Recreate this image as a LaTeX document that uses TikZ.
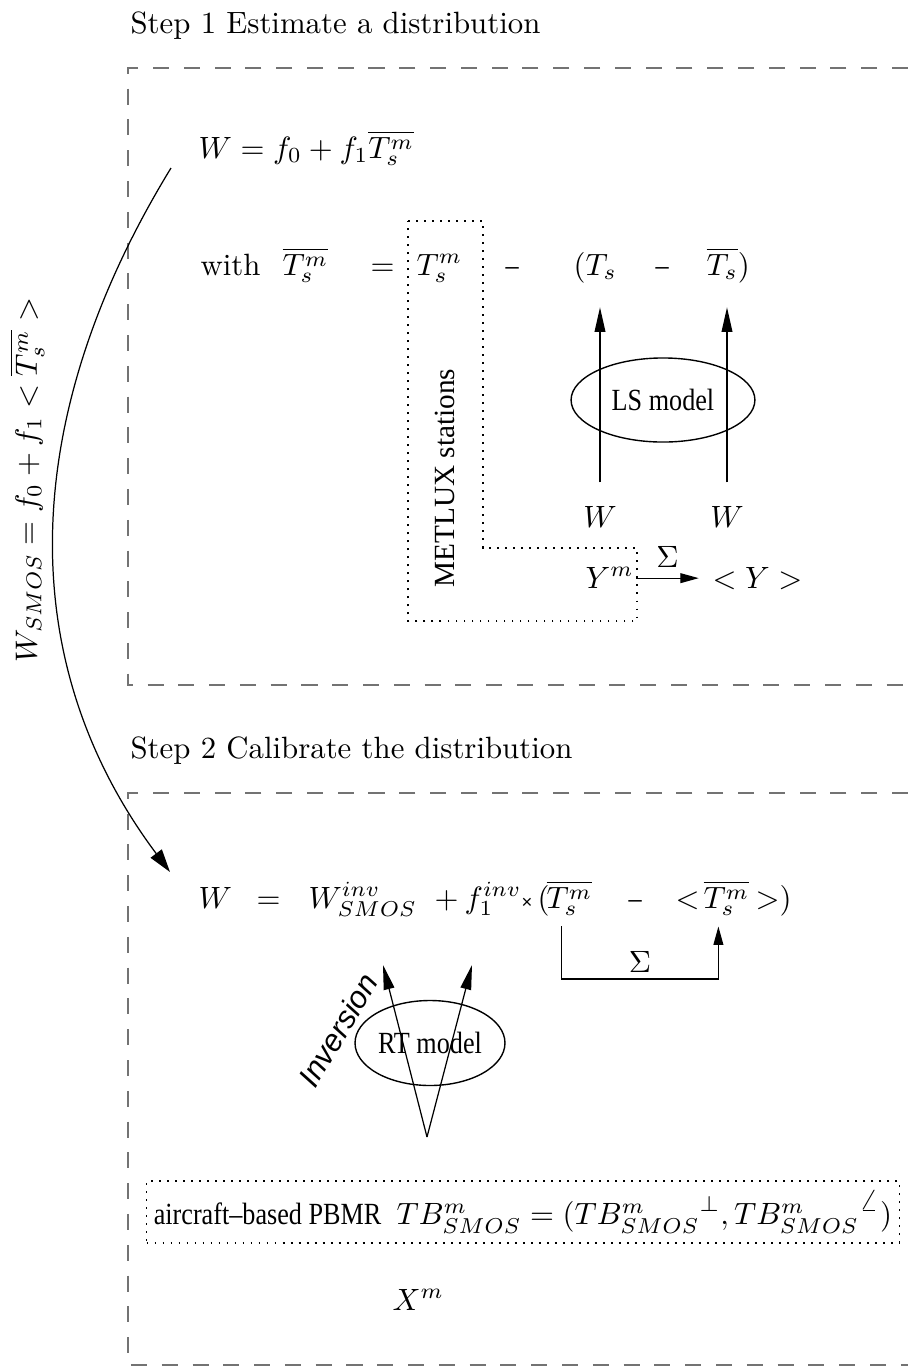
\documentclass[tikz,border=0pt]{standalone}
\usepackage{fontspec}
\usetikzlibrary{shapes.geometric,arrows.meta,positioning}
\newfontfamily\tms[FakeStretch=0.85]{Liberation Serif}
\newfontfamily\tmsw{Liberation Serif}
\newfontfamily\hlv{Liberation Sans}
\definecolor{boxgray}{gray}{0.45}
\tikzset{
  mth/.style={anchor=base west, inner sep=0pt},
  mdl/.style={ellipse, draw, line width=0.45pt, font=\tms, inner sep=0pt},
  dbox/.style={draw=boxgray, line width=0.5pt, dash pattern=on 5.2pt off 4.8pt},
  dotbox/.style={draw, dotted, line width=0.6pt},
  arr/.style={-{Triangle[length=8pt,width=3.5pt]}, line width=0.4pt},
  arrs/.style={-{Triangle[length=6pt,width=3.2pt]}, line width=0.4pt},
}

\begin{document}
\begin{tikzpicture}[x=0.011413cm, y=-0.011413cm]
    \useasboundingbox (0,0) rectangle (908,1370);
    \draw[dbox] (908,68) -- (128,68) -- (128,685) -- (908,685);
    \draw[dbox] (908,793) -- (128,793) -- (128,1365) -- (908,1365);
    \node[mth](s1) at (130,33){Step 1 Estimate a distribution};
    \node[mth](s2) at (130,758){Step 2 Calibrate the distribution};
    \node[mth](eqw) at (198,158){$W = f_0 + f_1\overline{T^m_s}$};
    \node[mth](with) at (200,275){with};
    \node[mth](tbar) at (282,275){$\overline{T^m_s}$};
    \node[mth](eq1) at (370,275){$=$};
    \node[mth](tsm) at (416,275){$T^m_s$};
    \node[mth](m1) at (505,275){\tms –};
    \node[mth](ts) at (573,275){$(T_s$};
    \node[mth](m2) at (655,275){\tms –};
    \node[mth](tsb) at (706,275){$\overline{T_s})$};
    \draw[dotbox] (408,221) -| (483,548) -| (637,621) -| (408,221);
    \node[rotate=90, font=\tmsw\fontsize{9.5}{11}\selectfont](metlux) at (445,478){METLUX stations};
    \node[mdl, minimum width=59.7pt, minimum height=27.3pt](ls) at (663,400){LS model};
    \node[anchor=base, inner sep=0pt](w1) at (600,527){$W$};
    \node[anchor=base, inner sep=0pt](w2) at (727,527){$W$};
    \draw[arr] ([yshift=7.5pt]w1.north) -- ([yshift=-10.5pt]w1.north |- ts.base);
    \draw[arr] ([yshift=7.5pt]w2.north) -- ([yshift=-10.5pt]w2.north |- tsb.base);
    \node[mth](ym) at (585,588){$Y^m$};
    \node[mth](ymean) at (712,588){$<Y>$};
    \draw[arrs] ([xshift=0.6pt,yshift=3.2pt]ym.base east) -- node[above](sig1){$\Sigma$} ([xshift=-4.3pt,yshift=3.2pt]ymean.base west);
    \node[rotate=90](wsmos) at (27,480){$W_{SMOS} = f_0 + f_1 < \overline{T^m_s} >$};
    \coordinate (cs) at (171,168);
    \coordinate (ce) at (170,872);
    \draw[-{Triangle[length=7.5pt,width=4.5pt]}, line width=0.4pt] (cs) .. controls (18,418) and (13,662) .. (ce);
    \node[mth](w3) at (198,908){$W$};
    \node[mth](eq3) at (256,908){$=$};
    \node[mth](winv) at (308,908){$W^{inv}_{SMOS}$};
    \node[mth](plus) at (434,908){$+$};
    \node[mth](finv) at (464,908){$f_1^{inv}${\hlv\fontsize{6}{7}\selectfont ×}};
    \node[mth](lpar) at (537,908){$($};
    \node[mth](tb1) at (546,908){$\overline{T^m_s}$};
    \node[mth](m3) at (628,908){\tms –};
    \node[mth](lt) at (675,908){$<$};
    \node[mth](tb2) at (703,908){$\overline{T^m_s}$};
    \node[mth](gt) at (755,908){$>)$};
    \node(sig2) at (640,962){$\Sigma$};
    \coordinate (sgb) at (640,979);
    \draw[arrs] ([xshift=5pt,yshift=-6pt]tb1.base west) |- (sgb) -| ([xshift=5pt,yshift=-6pt]tb2.base west);
    \node[mdl, minimum width=48.7pt, minimum height=27.6pt](rt) at (430,1043){RT model};
    \coordinate (vtop) at (427,1137);
    \coordinate (tipa) at (383,965);
    \coordinate (tipb) at (472,965);
    \draw[arr] (vtop) -- (tipa);
    \draw[arr] (vtop) -- (tipb);
    \node[rotate=59, font=\hlv\itshape](inv) at (338,1030){Inversion};
    \node[dotbox, minimum width=244.5pt, minimum height=20pt, inner sep=2pt](pb) at (523,1212){{\tms aircraft–based PBMR}\hspace{5pt}$TB^m_{SMOS} = ({TB^m_{SMOS}}^{\perp}, {TB^m_{SMOS}}^{\angle})$};
    \node[mth](xm) at (392,1310){$X^m$};
  \end{tikzpicture}
\end{document}
